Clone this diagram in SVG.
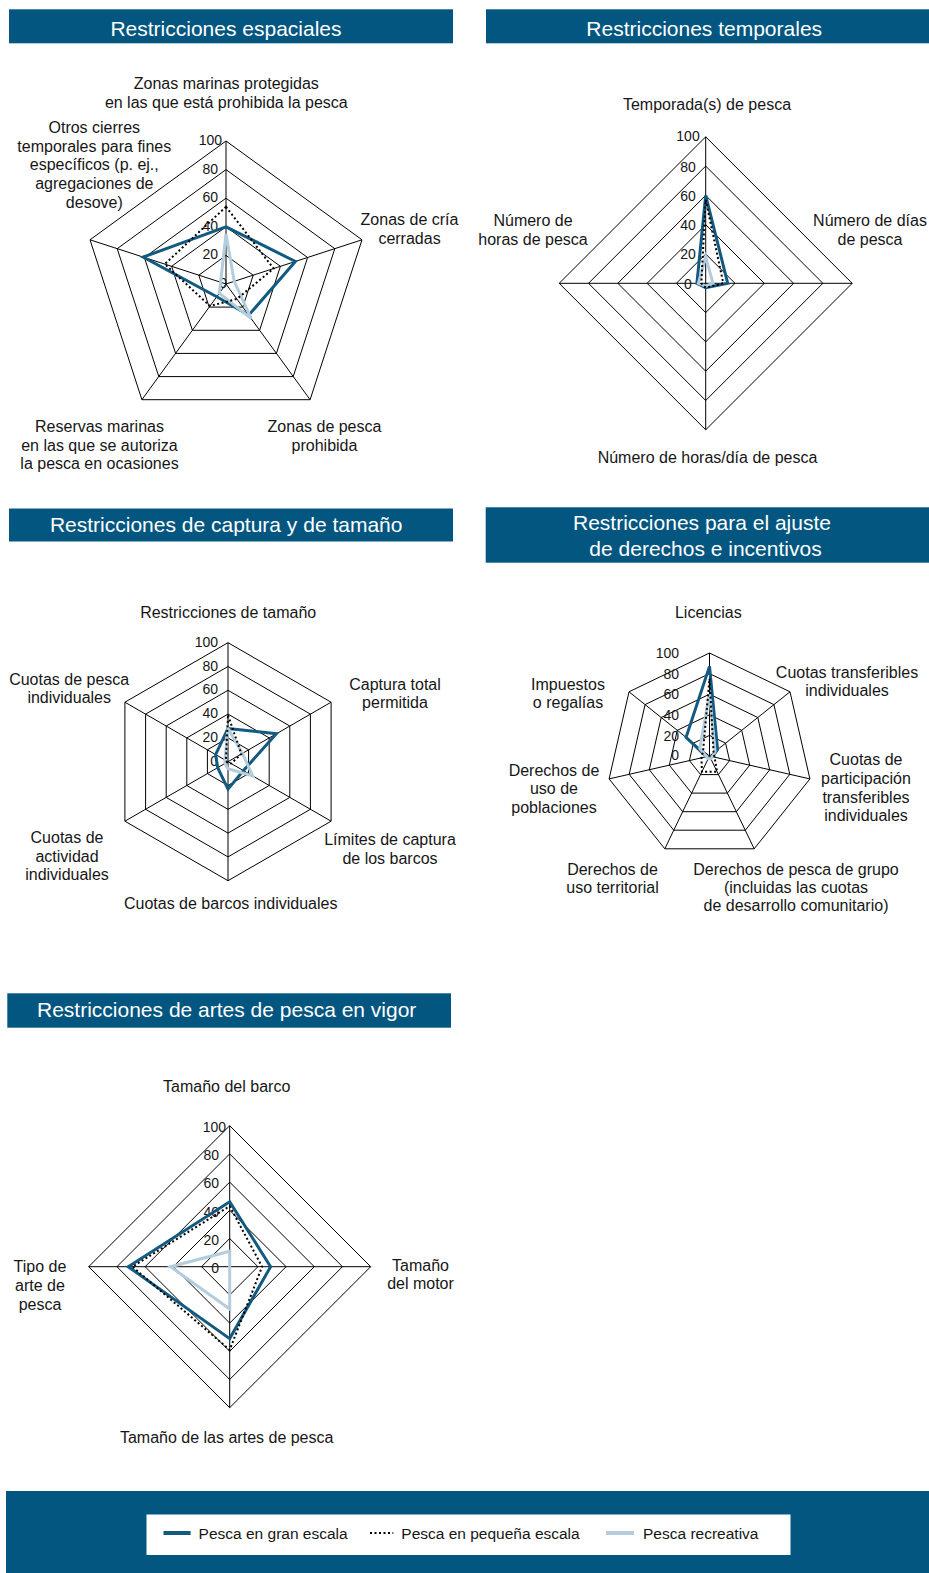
<svg xmlns="http://www.w3.org/2000/svg" width="929" height="1573" viewBox="0 0 929 1573">
<style>
.bar{fill:#03567f}
.title{font-family:"Liberation Sans",Arial,sans-serif;font-size:21px;fill:#fff;text-anchor:middle}
.lab{font-family:"Liberation Sans",Arial,sans-serif;font-size:16px;fill:#161616;text-anchor:middle}
.tk{font-family:"Liberation Sans",Arial,sans-serif;font-size:14px;fill:#161616;text-anchor:end}
.tkm{font-family:"Liberation Sans",Arial,sans-serif;font-size:14px;fill:#161616;text-anchor:middle}
.grid{fill:none;stroke:#000;stroke-width:1}
.lg{fill:none;stroke:#135a80;stroke-width:3;stroke-linejoin:miter}
.rc{fill:none;stroke:#b3cddc;stroke-width:3;stroke-linejoin:miter}
.ss{fill:none;stroke:#000;stroke-width:2;stroke-dasharray:2 2.5}
.leg{font-family:"Liberation Sans",Arial,sans-serif;font-size:15.5px;fill:#161616}
</style>
<rect width="929" height="1573" fill="#fff"/>

<!-- Chart 1: spatial -->
<g id="chart-espaciales">
<rect class="bar" x="9" y="9.3" width="444" height="34"/>
<text class="title" x="226" y="36">Restricciones espaciales</text>
<g class="grid">
<polygon points="226,141 362,239.8 310.1,399.7 141.9,399.7 90,239.8"/>
<polygon points="226,169.6 334.8,248.7 293.2,376.6 158.8,376.6 117.2,248.7"/>
<polygon points="226,198.2 307.6,257.5 276.4,353.4 175.6,353.4 144.4,257.5"/>
<polygon points="226,226.8 280.4,266.3 259.6,330.3 192.4,330.3 171.6,266.3"/>
<polygon points="226,255.4 253.2,275.2 242.8,307.1 209.2,307.1 198.8,275.2"/>
<path d="M226,284V141M226,284L362,239.8M226,284L310.1,399.7M226,284L141.9,399.7M226,284L90,239.8"/>
</g>
<text class="tk" x="222" y="145">100</text>
<text class="tk" x="218" y="173.6">80</text>
<text class="tk" x="218" y="202.2">60</text>
<text class="tk" x="218" y="230.8">40</text>
<text class="tk" x="218" y="259.4">20</text>
<text class="tk" x="227" y="288">0</text>
<polygon class="lg" points="226,226.8 295.4,261.5 248.7,315.2 216.8,296.7 143.1,257.1"/>
<polygon class="rc" points="226,234 234.2,281.3 251.2,318.7 219.3,293.2 220.6,282.2"/>
<polygon class="ss" points="226,206.8 273.6,268.5 236.9,299 210,306 164.8,264.1"/>
<text class="lab" x="226.3" y="89.3">Zonas marinas protegidas</text>
<text class="lab" x="226.3" y="107.8">en las que está prohibida la pesca</text>
<text class="lab" x="94.3"><tspan x="94.3" y="133">Otros cierres</tspan><tspan x="94.3" y="151.7">temporales para fines</tspan><tspan x="94.3" y="170.3">específicos (p. ej.,</tspan><tspan x="94.3" y="189">agregaciones de</tspan><tspan x="94.3" y="207.5">desove)</tspan></text>
<text class="lab" x="409.5"><tspan x="409.5" y="224.5">Zonas de cría</tspan><tspan x="409.5" y="243.5">cerradas</tspan></text>
<text class="lab" x="324.5"><tspan x="324.5" y="432">Zonas de pesca</tspan><tspan x="324.5" y="450.5">prohibida</tspan></text>
<text class="lab" x="99.5"><tspan x="99.5" y="432">Reservas marinas</tspan><tspan x="99.5" y="450.5">en las que se autoriza</tspan><tspan x="99.5" y="469">la pesca en ocasiones</tspan></text>
</g>

<!-- Chart 2: temporal -->
<g id="chart-temporales">
<rect class="bar" x="486" y="9.3" width="443" height="34"/>
<text class="title" x="704.2" y="36">Restricciones temporales</text>
<g class="grid">
<polygon points="705.7,136.8 852.2,283.3 705.7,429.8 559.2,283.3"/>
<polygon points="705.7,166.1 822.9,283.3 705.7,400.5 588.5,283.3"/>
<polygon points="705.7,195.4 793.6,283.3 705.7,371.2 617.8,283.3"/>
<polygon points="705.7,224.7 764.3,283.3 705.7,341.9 647.1,283.3"/>
<polygon points="705.7,254 735,283.3 705.7,312.6 676.4,283.3"/>
<path d="M705.7,136.8V429.8M559.2,283.3H852.2"/>
</g>
<text class="tkm" x="688" y="141">100</text>
<text class="tkm" x="688" y="171.5">80</text>
<text class="tkm" x="688" y="200.5">60</text>
<text class="tkm" x="688" y="229.5">40</text>
<text class="tkm" x="688" y="259">20</text>
<text class="tkm" x="688" y="289">0</text>
<polygon class="lg" points="705.7,195.4 727.7,283.3 705.7,287.7 696.9,283.3"/>
<polygon class="rc" points="705.7,256.9 713,283.3 705.7,286.2 698.4,283.3"/>
<polygon class="ss" points="705.7,199.8 723.3,283.3 705.7,287.7 701.3,283.3"/>
<text class="lab" x="707" y="109.5">Temporada(s) de pesca</text>
<text class="lab" x="533"><tspan x="533" y="225.5">Número de</tspan><tspan x="533" y="245">horas de pesca</tspan></text>
<text class="lab" x="870"><tspan x="870" y="225.5">Número de días</tspan><tspan x="870" y="245">de pesca</tspan></text>
<text class="lab" x="707.5" y="463">Número de horas/día de pesca</text>
</g>

<!-- Chart 3: captura y tamaño -->
<g id="chart-captura">
<rect class="bar" x="9" y="508.5" width="444" height="33"/>
<text class="title" x="226.2" y="531.5">Restricciones de captura y de tamaño</text>
<g class="grid">
<polygon points="228,642.7 331.1,702.2 331.1,821.2 228,880.7 124.9,821.2 124.9,702.2"/>
<polygon points="228,666.5 310.4,714.1 310.4,809.3 228,856.9 145.6,809.3 145.6,714.1"/>
<polygon points="228,690.3 289.8,726 289.8,797.4 228,833.1 166.2,797.4 166.2,726"/>
<polygon points="228,714.1 269.2,737.9 269.2,785.5 228,809.3 186.8,785.5 186.8,737.9"/>
<polygon points="228,737.9 248.6,749.8 248.6,773.6 228,785.5 207.4,773.6 207.4,749.8"/>
<path d="M228,642.7V880.7M124.9,702.2L331.1,821.2M331.1,702.2L124.9,821.2"/>
</g>
<text class="tk" x="218" y="646.7">100</text>
<text class="tk" x="218" y="670.5">80</text>
<text class="tk" x="218" y="694.3">60</text>
<text class="tk" x="218" y="718.1">40</text>
<text class="tk" x="218" y="741.9">20</text>
<text class="tk" x="218" y="765.7">0</text>
<polygon class="lg" points="228,728.4 276.4,733.7 243.5,770.6 228,789.1 217.7,767.7 215.6,754.6"/>
<polygon class="rc" points="228,728.4 242.5,753.4 252.7,776 228,768.8 224.9,763.5 224.9,759.9"/>
<polygon class="ss" points="228,715.3 241.4,753.9 231.1,763.5 228,762.9 227,762.3 225.9,760.5"/>
<text class="lab" x="228.2" y="617.5">Restricciones de tamaño</text>
<text class="lab" x="395"><tspan x="395" y="689.5">Captura total</tspan><tspan x="395" y="707.5">permitida</tspan></text>
<text class="lab" x="69.2"><tspan x="69.2" y="684.5">Cuotas de pesca</tspan><tspan x="69.2" y="702.5">individuales</tspan></text>
<text class="lab" x="390"><tspan x="390" y="845">Límites de captura</tspan><tspan x="390" y="864">de los barcos</tspan></text>
<text class="lab" x="67"><tspan x="67" y="843">Cuotas de</tspan><tspan x="67" y="862">actividad</tspan><tspan x="67" y="880">individuales</tspan></text>
<text class="lab" x="230.7" y="909">Cuotas de barcos individuales</text>
</g>

<!-- Chart 4: derechos e incentivos -->
<g id="chart-derechos">
<rect class="bar" x="485.7" y="507.3" width="443.3" height="55.4"/>
<text class="title"><tspan x="702" y="530">Restricciones para el ajuste</tspan><tspan x="705.5" y="555.5">de derechos e incentivos</tspan></text>
<g class="grid">
<polygon points="709.5,653 790,691.8 809.9,778.9 754.2,848.8 664.8,848.8 609.1,778.9 629,691.8"/>
<polygon points="709.5,673.6 773.9,704.6 789.8,774.3 745.3,830.2 673.7,830.2 629.2,774.3 645.1,704.6"/>
<polygon points="709.5,694.2 757.8,717.5 769.7,769.8 736.3,811.7 682.7,811.7 649.3,769.8 661.2,717.5"/>
<polygon points="709.5,714.8 741.7,730.3 749.7,765.2 727.4,793.1 691.6,793.1 669.3,765.2 677.3,730.3"/>
<polygon points="709.5,735.4 725.6,743.2 729.6,760.6 718.4,774.6 700.6,774.6 689.4,760.6 693.4,743.2"/>
<path d="M709.5,756V653M709.5,756L790,691.8M709.5,756L809.9,778.9M709.5,756L754.2,848.8M709.5,756L664.8,848.8M709.5,756L609.1,778.9M709.5,756L629,691.8"/>
</g>
<text class="tk" x="679" y="658">100</text>
<text class="tk" x="679" y="679">80</text>
<text class="tk" x="679" y="699">60</text>
<text class="tk" x="679" y="720">40</text>
<text class="tk" x="679" y="740.5">20</text>
<text class="tk" x="679" y="760">0</text>
<polygon class="lg" points="709.5,666.4 717.6,749.6 712.5,756.7 710.4,757.9 708.6,757.9 706.5,756.7 686.1,737.4"/>
<polygon class="rc" points="709.5,694.2 715.1,751.5 712.5,756.7 710.8,758.8 708.2,758.8 706.5,756.7 699.8,748.3"/>
<polygon class="ss" points="709.5,678.7 713.6,752.8 714.5,757.2 717.1,771.8 701.9,771.8 701.5,757.8 703.1,750.9"/>
<text class="lab" x="708.3" y="617.5">Licencias</text>
<text class="lab" x="847"><tspan x="847" y="678">Cuotas transferibles</tspan><tspan x="847" y="696">individuales</tspan></text>
<text class="lab" x="568"><tspan x="568" y="690">Impuestos</tspan><tspan x="568" y="708">o regalías</tspan></text>
<text class="lab" x="866"><tspan x="866" y="765">Cuotas de</tspan><tspan x="866" y="784">participación</tspan><tspan x="866" y="802.5">transferibles</tspan><tspan x="866" y="821">individuales</tspan></text>
<text class="lab" x="554"><tspan x="554" y="775.5">Derechos de</tspan><tspan x="554" y="794">uso de</tspan><tspan x="554" y="812.5">poblaciones</tspan></text>
<text class="lab" x="612.5"><tspan x="612.5" y="875">Derechos de</tspan><tspan x="612.5" y="892.5">uso territorial</tspan></text>
<text class="lab" x="796"><tspan x="796" y="875">Derechos de pesca de grupo</tspan><tspan x="796" y="892.5">(incluidas las cuotas</tspan><tspan x="796" y="911">de desarrollo comunitario)</tspan></text>
</g>

<!-- Chart 5: artes de pesca -->
<g id="chart-artes">
<rect class="bar" x="7.3" y="993.3" width="443.7" height="34.4"/>
<text class="title" x="226.7" y="1016.7">Restricciones de artes de pesca en vigor</text>
<g class="grid">
<polygon points="229.7,1125.7 370.7,1266.7 229.7,1407.7 88.7,1266.7"/>
<polygon points="229.7,1153.9 342.5,1266.7 229.7,1379.5 116.9,1266.7"/>
<polygon points="229.7,1182.1 314.3,1266.7 229.7,1351.3 145.1,1266.7"/>
<polygon points="229.7,1210.3 286.1,1266.7 229.7,1323.1 173.3,1266.7"/>
<polygon points="229.7,1238.5 257.9,1266.7 229.7,1294.9 201.5,1266.7"/>
<path d="M229.7,1125.7V1407.7M88.7,1266.7H370.7"/>
</g>
<text class="tk" x="226" y="1131.5">100</text>
<text class="tk" x="219" y="1160">80</text>
<text class="tk" x="219" y="1187.5">60</text>
<text class="tk" x="219" y="1216.5">40</text>
<text class="tk" x="219" y="1245">20</text>
<text class="tk" x="219" y="1273">0</text>
<polygon class="lg" points="229.7,1201.8 270.6,1266.7 229.7,1338.6 128.2,1266.7"/>
<polygon class="rc" points="229.7,1251.2 229.7,1266.7 229.7,1309 170.5,1266.7"/>
<polygon class="ss" points="229.7,1206.1 262.1,1266.7 229.7,1349.9 132.4,1266.7"/>
<text class="lab" x="226.7" y="1092">Tamaño del barco</text>
<text class="lab" x="40"><tspan x="40" y="1271.5">Tipo de</tspan><tspan x="40" y="1290.5">arte de</tspan><tspan x="40" y="1309.5">pesca</tspan></text>
<text class="lab" x="420.5"><tspan x="420.5" y="1270.5">Tamaño</tspan><tspan x="420.5" y="1289">del motor</tspan></text>
<text class="lab" x="226.7" y="1443">Tamaño de las artes de pesca</text>
</g>

<!-- Legend -->
<g id="legend">
<rect class="bar" x="6" y="1491" width="923" height="82"/>
<rect x="146.5" y="1514.5" width="644" height="40.5" fill="#fff"/>
<line x1="163.5" y1="1533" x2="190.6" y2="1533" stroke="#135a80" stroke-width="4"/>
<text class="leg" x="198.6" y="1538.5">Pesca en gran escala</text>
<line x1="370" y1="1533" x2="393.3" y2="1533" stroke="#000" stroke-width="2" stroke-dasharray="2 2.5"/>
<text class="leg" x="401.3" y="1538.5">Pesca en pequeña escala</text>
<line x1="606" y1="1533" x2="634" y2="1533" stroke="#b3cddc" stroke-width="4"/>
<text class="leg" x="643" y="1538.5">Pesca recreativa</text>
</g>
</svg>
